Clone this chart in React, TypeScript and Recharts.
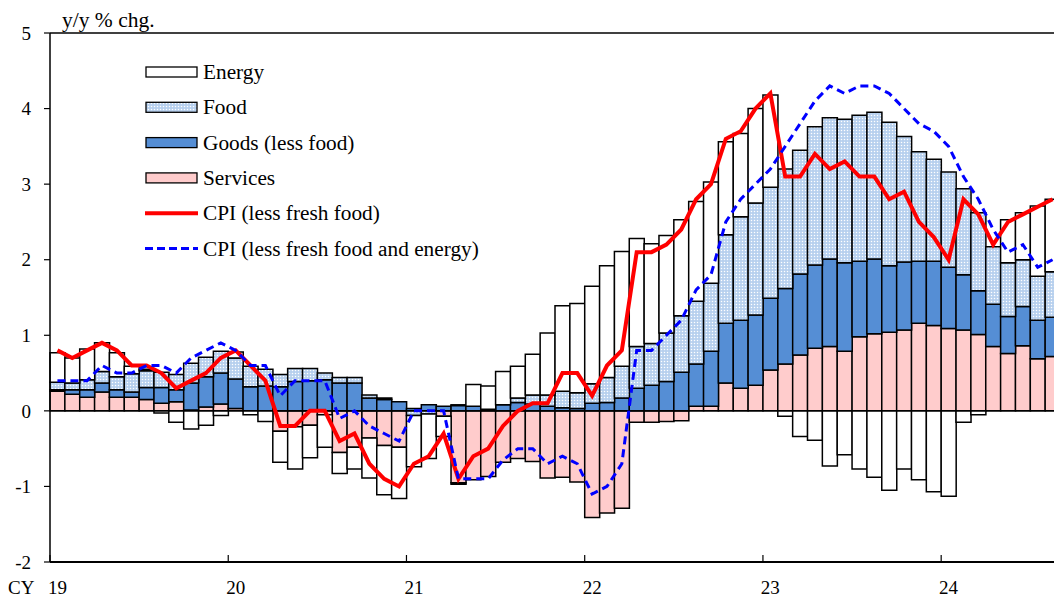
import { ComposedChart, Bar, Line, XAxis, YAxis, ReferenceLine } from 'recharts';

// y/y % chg., monthly, Jan 2019 - Aug 2024
const YEARS = ['19', '20', '21', '22', '23', '24'];
const MONTHS = ['01', '02', '03', '04', '05', '06', '07', '08', '09', '10', '11', '12'];

const SERVICES = [
  0.26, 0.22, 0.18, 0.25, 0.18, 0.18, 0.15, 0.10, 0.12, 0.01, 0.05, 0.09,
  0.03, 0.0, 0.0, -0.27, -0.21, -0.19, -0.05, -0.55, -0.48, -0.36, -0.46, -0.48,
  0.0, 0.0, -0.07, -0.95, -0.91, -0.87, -0.68, -0.63, -0.67, -0.89, -0.88, -0.94,
  -1.41, -1.35, -1.29, -0.15, -0.15, -0.14, -0.13, 0.06, 0.06, 0.37, 0.30, 0.34,
  0.54, 0.62, 0.74, 0.83, 0.85, 0.79, 0.98, 1.02, 1.04, 1.07, 1.16, 1.13,
  1.09, 1.07, 1.01, 0.85, 0.76, 0.86, 0.69, 0.72,
];
const GOODS = [
  0.02, 0.06, 0.10, 0.12, 0.10, 0.07, 0.16, 0.21, 0.16, 0.36, 0.40, 0.41,
  0.39, 0.32, 0.33, 0.32, 0.39, 0.40, 0.41, 0.37, 0.37, 0.17, 0.15, 0.12,
  0.03, 0.08, 0.06, 0.07, 0.06, 0.02, 0.08, 0.11, 0.09, 0.06, 0.04, 0.03,
  0.10, 0.11, 0.17, 0.30, 0.34, 0.39, 0.51, 0.56, 0.73, 0.79, 0.90, 0.93,
  0.95, 1.00, 1.07, 1.10, 1.16, 1.17, 1.00, 0.99, 0.88, 0.90, 0.82, 0.85,
  0.81, 0.73, 0.58, 0.56, 0.49, 0.52, 0.51, 0.52,
];
const FOOD = [
  0.10, 0.09, 0.13, 0.15, 0.17, 0.24, 0.22, 0.20, 0.20, 0.26, 0.26, 0.29,
  0.28, 0.27, 0.22, 0.16, 0.17, 0.16, 0.09, 0.07, 0.07, 0.04, 0.02, 0.0,
  -0.06, -0.04, 0.0, 0.01, 0.0, 0.0, 0.0, 0.06, 0.12, 0.15, 0.22, 0.21,
  0.26, 0.33, 0.42, 0.55, 0.55, 0.64, 0.75, 0.83, 0.90, 1.17, 1.37, 1.48,
  1.47, 1.58, 1.64, 1.83, 1.87, 1.90, 1.93, 1.94, 1.90, 1.66, 1.45, 1.35,
  1.26, 1.14, 1.03, 0.76, 0.71, 0.62, 0.58, 0.60,
];
const ENERGY = [
  0.39, 0.33, 0.41, 0.38, 0.32, 0.10, 0.02, -0.03, -0.15, -0.24, -0.19, -0.06,
  0.08, -0.05, -0.14, -0.41, -0.56, -0.43, -0.43, -0.28, -0.29, -0.53, -0.65, -0.68,
  -0.68, -0.59, -0.27, -0.02, 0.29, 0.31, 0.44, 0.42, 0.54, 0.82, 1.13, 1.18,
  1.29, 1.48, 1.52, 1.43, 1.32, 1.29, 1.27, 1.32, 1.34, 1.23, 1.10, 1.25,
  1.22, -0.07, -0.34, -0.39, -0.73, -0.58, -0.77, -0.88, -1.05, -0.77, -0.91, -1.07,
  -1.13, -0.15, -0.05, 0.0, 0.57, 0.62, 0.93, 0.96,
];
const CPI_LESS_FRESH = [
  0.8, 0.7, 0.8, 0.9, 0.8, 0.6, 0.6, 0.5, 0.3, 0.4, 0.5, 0.7,
  0.8, 0.6, 0.4, -0.2, -0.2, 0.0, 0.0, -0.4, -0.3, -0.7, -0.9, -1.0,
  -0.7, -0.6, -0.3, -0.9, -0.6, -0.5, -0.2, 0.0, 0.1, 0.1, 0.5, 0.5,
  0.2, 0.6, 0.8, 2.1, 2.1, 2.2, 2.4, 2.8, 3.0, 3.6, 3.7, 4.0,
  4.2, 3.1, 3.1, 3.4, 3.2, 3.3, 3.1, 3.1, 2.8, 2.9, 2.5, 2.3,
  2.0, 2.8, 2.6, 2.2, 2.5, 2.6, 2.7, 2.8,
];
const CPI_LESS_FRESH_ENERGY = [
  0.4, 0.4, 0.4, 0.6, 0.5, 0.5, 0.6, 0.6, 0.5, 0.7, 0.8, 0.9,
  0.8, 0.6, 0.6, 0.2, 0.4, 0.4, 0.4, -0.1, 0.0, -0.2, -0.3, -0.4,
  0.0, 0.0, 0.0, -0.9, -0.9, -0.9, -0.65, -0.5, -0.5, -0.7, -0.6, -0.7,
  -1.1, -1.0, -0.7, 0.8, 0.8, 1.0, 1.2, 1.6, 1.8, 2.5, 2.8, 3.0,
  3.2, 3.5, 3.8, 4.1, 4.3, 4.2, 4.3, 4.3, 4.2, 4.0, 3.8, 3.7,
  3.5, 3.1, 2.8, 2.4, 2.1, 2.2, 1.9, 2.0,
];
const Y_TICKS = [-2, -1, 0, 1, 2, 3, 4, 5];

const LABELS = YEARS.flatMap(y => MONTHS.map(m => `${y}-${m}`)).slice(0, SERVICES.length);

const data = LABELS.map((label, i) => ({
  label,
  services: SERVICES[i],
  goods: GOODS[i],
  food: FOOD[i],
  energy: ENERGY[i],
  cpi: CPI_LESS_FRESH[i],
  core: CPI_LESS_FRESH_ENERGY[i],
}));

const FONT = '"Liberation Serif", "Times New Roman", serif';
const CHART_W = 1060;
const CHART_H = 601;
const Y_AXIS_W = 50;
const HALF_BAND = (CHART_W - Y_AXIS_W) / data.length / 2;

function YearTick({ x, y, payload }: any) {
  const value: string = payload.value;
  return (
    <g>
      <line x1={x - HALF_BAND} x2={x - HALF_BAND} y1={y} y2={y - 7} stroke="#000" strokeWidth={1.2} />
      <text x={x} y={y + 32} textAnchor="middle" fontSize={19} fontFamily={FONT} fill="#000">
        {value.slice(0, 2)}
      </text>
      {value === '19-01' && (
        <text x={8} y={y + 32} fontSize={19} fontFamily={FONT} fill="#000">CY</text>
      )}
    </g>
  );
}

const LEGEND_ROWS = [
  { name: 'Energy', kind: 'box', fill: '#ffffff' },
  { name: 'Food', kind: 'box', fill: 'url(#foodPat)' },
  { name: 'Goods (less food)', kind: 'box', fill: '#558ed5' },
  { name: 'Services', kind: 'box', fill: '#ffcccc' },
  { name: 'CPI (less fresh food)', kind: 'line', fill: '#ff0000' },
  { name: 'CPI (less fresh food and energy)', kind: 'dash', fill: '#0000ff' },
];

function Overlay() {
  return (
    <svg width={1054} height={601} style={{ position: 'absolute', left: 0, top: 0, pointerEvents: 'none' }}>
      <defs>
        <pattern id="foodPat" width={3} height={3} patternUnits="userSpaceOnUse">
          <rect width={3} height={3} fill="#b7d0ee" />
          <circle cx={1.5} cy={1.5} r={0.75} fill="#ffffff" />
        </pattern>
      </defs>
      <text x={62} y={27} fontSize={21.5} fontFamily={FONT} fill="#000">y/y % chg.</text>
      {LEGEND_ROWS.map((row, i) => {
        const cy = 72 + i * 35.3;
        return (
          <g key={row.name}>
            {row.kind === 'box' && (
              <rect x={146} y={cy - 5} width={51} height={10} fill={row.fill} stroke="#000" strokeWidth={1.3} />
            )}
            {row.kind === 'line' && (
              <line x1={145} x2={198} y1={cy} y2={cy} stroke={row.fill} strokeWidth={4} />
            )}
            {row.kind === 'dash' && (
              <line x1={145} x2={198} y1={cy} y2={cy} stroke={row.fill} strokeWidth={3} strokeDasharray="8 4" />
            )}
            <text x={203} y={cy + 7} fontSize={21.3} fontFamily={FONT} fill="#000">{row.name}</text>
          </g>
        );
      })}
    </svg>
  );
}

export default function App() {
  return (
    <div style={{ position: 'absolute', left: 0, top: 0, width: 1054, height: 601, overflow: 'hidden', background: '#fff' }}>
      <ComposedChart
        width={CHART_W}
        height={CHART_H}
        data={data}
        stackOffset="sign"
        barCategoryGap={0}
        margin={{ top: 33, right: 0, bottom: 0, left: 0 }}
      >
        <XAxis
          dataKey="label"
          interval={11}
          height={39}
          tickSize={0}
          tickMargin={0}
          tick={<YearTick />}
          axisLine={{ stroke: '#000', strokeWidth: 2 }}
          tickLine={false}
        />
        <YAxis
          domain={[-2, 5]}
          ticks={Y_TICKS}
          width={Y_AXIS_W}
          tickSize={6}
          tickMargin={13}
          axisLine={{ stroke: '#000', strokeWidth: 1.5 }}
          tickLine={{ stroke: '#000', strokeWidth: 1.2 }}
          tick={{ fill: '#000', fontSize: 19, fontFamily: FONT }}
          allowDataOverflow
        />
        <Bar dataKey="services" stackId="a" fill="#ffcccc" stroke="#000" strokeWidth={1.5} isAnimationActive={false} />
        <Bar dataKey="goods" stackId="a" fill="#558ed5" stroke="#000" strokeWidth={1.5} isAnimationActive={false} />
        <Bar dataKey="food" stackId="a" fill="url(#foodPat)" stroke="#000" strokeWidth={1.5} isAnimationActive={false} />
        <Bar dataKey="energy" stackId="a" fill="#ffffff" stroke="#000" strokeWidth={1.5} isAnimationActive={false} />
        <ReferenceLine y={0} stroke="#000" strokeWidth={1.5} />
        <ReferenceLine y={5} stroke="#000" strokeWidth={1.5} />
        <Line dataKey="cpi" stroke="#ff0000" strokeWidth={4} dot={false} type="linear" isAnimationActive={false} />
        <Line dataKey="core" stroke="#0000ff" strokeWidth={3} strokeDasharray="8 5" dot={false} type="linear" isAnimationActive={false} />
      </ComposedChart>
      <Overlay />
    </div>
  );
}
